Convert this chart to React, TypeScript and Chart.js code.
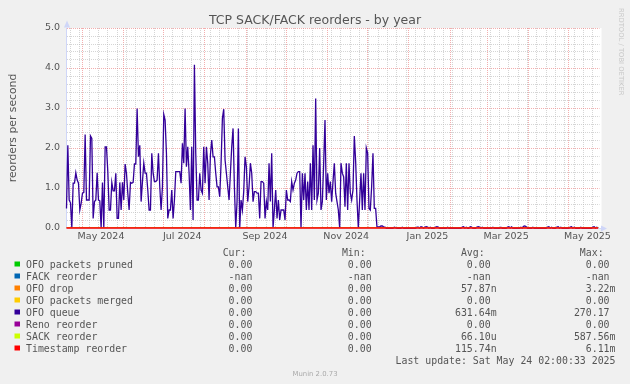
import React, { useEffect, useRef } from 'react';
import { Chart, registerables } from 'chart.js';

Chart.register(...registerables);

// ---- time frame (400 days ending Sat May 24 02:00 2025) ----
const START_MS = Date.UTC(2024, 3, 19, 2, 0, 0);
const DAY_MS = 86400000;
const SPAN_DAYS = 400;

// ---- OFO queue, one value per day (reorders per second) ----
const ofoQueue: number[] = [
  0.49, 2.07, 0.70, 0.63, 0, 1.12, 1.12, 1.38, 1.20, 1.12,
  0.45, 0.62, 0.87, 0.89, 2.34, 0.70, 0.70, 0.70, 2.30, 2.24,
  0.24, 0.66, 0.70, 1.38, 0.70, 0.68, 0, 1.14, 0, 2.03,
  2.03, 1.41, 0.45, 0.45, 1.14, 0.93, 0.93, 1.37, 0.24, 0.24,
  1.14, 0.45, 1.14, 0.70, 1.60, 1.37, 0.87, 0.45, 1.14, 1.12,
  1.14, 1.60, 1.60, 2.99, 1.78, 2.07, 0.66, 1.16, 1.62, 1.37,
  1.37, 0.95, 0.45, 0.45, 1.87, 1.37, 1.16, 1.16, 1.20, 1.87,
  1.03, 0.45, 1.03, 2.84, 2.70, 1.87, 0.24, 0.45, 0.45, 0.95,
  0.24, 0.70, 1.41, 1.41, 1.41, 1.41, 1.12, 2.12, 1.62, 2.99,
  1.53, 2.03, 1.37, 0.45, 2.03, 0.20, 4.08, 1.87, 0.70, 0.70,
  1.37, 0.95, 0.87, 2.03, 1.12, 2.03, 1.62, 0.70, 1.83, 2.20,
  1.78, 1.78, 1.37, 1.03, 1.03, 0.78, 1.62, 2.74, 2.97, 1.70,
  1.37, 1.03, 0.70, 1.37, 2.03, 2.49, 1.03, 0, 0.66, 2.49,
  0, 0.70, 0.45, 0.91, 1.78, 1.53, 0.66, 1.03, 1.62, 1.37,
  0.66, 0.91, 0.91, 0.87, 0.87, 0.24, 1.16, 1.16, 1.12, 0.24,
  0.66, 0.45, 1.62, 0.66, 1.87, 0, 0.45, 0.95, 0.24, 0.70,
  0.20, 0.45, 0.45, 0.45, 0.20, 0.95, 0.70, 0.70, 0.66, 1.16,
  0.95, 1.12, 1.20, 1.37, 1.41, 1.41, 0, 1.37, 0.70, 1.37,
  0.45, 1.16, 0.45, 1.62, 0.45, 2.07, 0.70, 3.24, 0.70, 0.87,
  2.00, 0.45, 0.66, 1.62, 2.70, 0.70, 1.37, 0.87, 1.16, 0.66,
  1.16, 1.62, 0.87, 0.66, 0.45, 0, 1.62, 1.37, 1.28, 0.53,
  1.62, 0.45, 1.62, 0.87, 0.70, 0.95, 2.30, 1.66, 0.70, 0,
  0.70, 1.37, 0.45, 1.37, 0.45, 2.00, 1.87, 0.49, 0.45, 1.03,
  1.87, 0.49, 0.49,
  0.02, 0.03, 0.03, 0.05, 0.05, 0.03, 0.02, 0, 0, 0,
  0, 0, 0, 0.02, 0.01, 0, 0, 0, 0, 0.02,
  0, 0, 0, 0, 0, 0, 0, 0, 0, 0,
  0.02, 0.02, 0, 0.03, 0.02, 0, 0.02, 0.03, 0.02, 0,
  0.02, 0, 0, 0, 0.02, 0.03, 0.02, 0, 0, 0,
  0, 0, 0, 0.02, 0, 0, 0, 0, 0, 0,
  0, 0, 0, 0, 0.02, 0.03, 0, 0.02, 0, 0,
  0.03, 0.02, 0, 0, 0, 0.02, 0.03, 0.02, 0, 0.02,
  0, 0, 0, 0, 0, 0, 0, 0.02, 0, 0,
  0, 0, 0, 0.02, 0, 0, 0, 0, 0.02, 0.03,
  0, 0.03, 0, 0, 0, 0, 0, 0, 0.02, 0,
  0.04, 0.05, 0.03, 0, 0, 0, 0, 0.02, 0, 0,
  0, 0, 0, 0, 0, 0, 0, 0, 0.02, 0.03,
  0, 0.02, 0, 0, 0, 0.02, 0.03, 0, 0.02, 0,
  0, 0, 0, 0, 0, 0.02, 0.03, 0, 0.02, 0,
  0, 0, 0, 0.02, 0, 0, 0, 0, 0, 0,
  0, 0, 0.02, 0.03, 0, 0.02, 0,
];

// the other series are flat at zero over the whole period (FACK is nan)
const flatDays = [0, 399];
const flatZero = [0, 0];

// ---- legend ----
const seriesNames = [
  'OFO packets pruned', 'FACK reorder', 'OFO drop', 'OFO packets merged',
  'OFO queue', 'Reno reorder', 'SACK reorder', 'Timestamp reorder',
];
const seriesColors = ['#00CC00', '#0066B3', '#FF8000', '#FFCC00', '#330099', '#990099', '#CCFF00', '#FF0000'];
const curValues = ['0.00', '-nan', '0.00', '0.00', '0.00', '0.00', '0.00', '0.00'];
const minValues = ['0.00', '-nan', '0.00', '0.00', '0.00', '0.00', '0.00', '0.00'];
const avgValues = ['0.00', '-nan', '57.87n', '0.00', '631.64m', '0.00', '66.10u', '115.74n'];
const maxValues = ['0.00', '-nan', '3.22m', '0.00', '270.17', '0.00', '587.56m', '6.11m'];
const columnHeaders = ['Cur:', 'Min:', 'Avg:', 'Max:'];

// ---- axis labels ----
const xTickLabels = ['May 2024', 'Jul 2024', 'Sep 2024', 'Nov 2024', 'Jan 2025', 'Mar 2025', 'May 2025'];
const xTickLabelMonths = [[2024, 4], [2024, 6], [2024, 8], [2024, 10], [2025, 0], [2025, 2], [2025, 4]];
const yMax = 5;
const yMinorStep = 0.2;

const TITLE = 'TCP SACK/FACK reorders - by year';
const Y_TITLE = 'reorders per second';
const LAST_UPDATE = 'Last update: Sat May 24 02:00:33 2025';
const WATERMARK = 'RRDTOOL / TOBI OETIKER';
const VERSION = 'Munin 2.0.73';

const dayOf = (ms: number) => (ms - START_MS) / DAY_MS;

// tick sets for the x axis (weekly minor grid, monthly major grid, mid-month labels)
type XTick = { value: number; grid: 'week' | 'month' | null; label: string };
const xTicks: XTick[] = [];
const addTick = (value: number, grid: XTick['grid'], label: string) => {
  const t = xTicks.find((k) => Math.abs(k.value - value) < 1e-6);
  if (t) {
    if (grid && t.grid !== 'month') t.grid = grid;
    if (label) t.label = label;
  } else xTicks.push({ value, grid, label });
};
{
  for (let d = dayOf(Date.UTC(2024, 3, 22)); d < SPAN_DAYS; d += 7) addTick(d, 'week', '');
  let y = 2024;
  let m = 4;
  while (dayOf(Date.UTC(y, m, 1)) < SPAN_DAYS) {
    addTick(dayOf(Date.UTC(y, m, 1)), 'month', '');
    m++;
    if (m > 11) { m = 0; y++; }
  }
  xTickLabelMonths.forEach(([yy, mm], i) => addTick(dayOf(Date.UTC(yy, mm, 1)) + 14, null, xTickLabels[i]));
  xTicks.sort((a, b) => a.value - b.value);
}
const tickInfo = (v: number) => xTicks.find((t) => Math.abs(t.value - v) < 1e-6);

const MAJOR = 'rgba(235, 120, 120, 0.6)';
const MINOR = 'rgba(185, 185, 185, 0.6)';
const TEXT = '#555555';
const AXIS = '#CFD6F8';

const muninPlugin = {
  id: 'muninDecor',
  beforeDraw(chart: any) {
    const { ctx, chartArea: a } = chart;
    ctx.save();
    ctx.fillStyle = '#F0F0F0';
    ctx.fillRect(0, 0, chart.width, chart.height);
    ctx.fillStyle = '#FFFFFF';
    ctx.fillRect(a.left, a.top, a.right - a.left + 2, a.bottom - a.top);
    ctx.restore();
  },
  afterDraw(chart: any) {
    const { ctx, chartArea: a } = chart;
    ctx.save();
    // axis arrows
    ctx.fillStyle = AXIS;
    ctx.strokeStyle = AXIS;
    ctx.lineWidth = 1;
    ctx.beginPath();
    ctx.moveTo(a.right, Math.round(a.bottom) + 0.5);
    ctx.lineTo(a.right + 2, Math.round(a.bottom) + 0.5);
    ctx.stroke();
    ctx.beginPath();
    ctx.moveTo(a.right + 1.5, a.bottom - 2.5);
    ctx.lineTo(a.right + 7.5, a.bottom + 0.5);
    ctx.lineTo(a.right + 1.5, a.bottom + 3.5);
    ctx.closePath();
    ctx.fill();
    ctx.beginPath();
    ctx.moveTo(a.left - 2.5, a.top - 0.5);
    ctx.lineTo(a.left + 0.5, a.top - 7.5);
    ctx.lineTo(a.left + 3.5, a.top - 0.5);
    ctx.closePath();
    ctx.fill();

    // title
    ctx.fillStyle = TEXT;
    ctx.font = '12.5px "DejaVu Sans"';
    ctx.textAlign = 'center';
    ctx.textBaseline = 'alphabetic';
    ctx.fillText(TITLE, 315, 23.5);

    // y axis title
    ctx.save();
    ctx.translate(15.5, (a.top + a.bottom) / 2);
    ctx.rotate(-Math.PI / 2);
    ctx.font = '10.8px "DejaVu Sans"';
    ctx.textAlign = 'center';
    ctx.fillText(Y_TITLE, 0, 0);
    ctx.restore();

    // watermark
    ctx.save();
    ctx.translate(619, 8);
    ctx.rotate(Math.PI / 2);
    ctx.font = '6.8px "DejaVu Sans"';
    ctx.textAlign = 'left';
    ctx.fillStyle = '#C8C8C8';
    ctx.fillText(WATERMARK, 0, 0);
    ctx.restore();

    // legend table
    ctx.font = '9.9px "DejaVu Sans Mono"';
    const cw = ctx.measureText('0').width;
    const edges = [258.3, 377.6, 496.6, 615.5];
    const cols = [curValues, minValues, avgValues, maxValues];
    const base0 = 267.5;
    const rowH = 12;
    ctx.textAlign = 'right';
    columnHeaders.forEach((h, c) => ctx.fillText(h, edges[c] - 2 * cw, base0 - rowH));
    seriesNames.forEach((name, i) => {
      const by = base0 + i * rowH;
      ctx.fillStyle = seriesColors[i];
      ctx.fillRect(14.5, by - 6, 5.5, 5);
      ctx.fillStyle = TEXT;
      ctx.textAlign = 'left';
      ctx.fillText(name, 26, by);
      ctx.textAlign = 'right';
      cols.forEach((col, c) => {
        const s = col[i];
        const suffixed = /[numkMG]$/.test(s) && s !== '-nan';
        ctx.fillText(s, edges[c] - (suffixed ? 0 : cw), by);
      });
    });
    ctx.fillText(LAST_UPDATE, 615.5, base0 + 8 * rowH);

    ctx.font = '6.9px "DejaVu Sans"';
    ctx.fillStyle = '#AAAAAA';
    ctx.textAlign = 'center';
    ctx.fillText(VERSION, 315, 376);
    ctx.restore();
  },
};

export default function App() {
  const ref = useRef<HTMLCanvasElement>(null);
  useEffect(() => {
    document.body.style.margin = '0';
    const canvas = ref.current;
    if (!canvas) return;
    const datasets = seriesNames.map((name, i) => {
      const isQueue = i === 4;
      const isNan = i === 1;
      const isTop = i === seriesNames.length - 1;
      const xs = isQueue ? ofoQueue.map((_, k) => k) : flatDays;
      const ys = isQueue ? ofoQueue : flatZero;
      return {
        label: name,
        data: isNan ? [] : xs.map((x, k) => ({ x, y: ys[k] })),
        borderColor: seriesColors[i],
        backgroundColor: seriesColors[i],
        borderWidth: isQueue ? 1.3 : isTop ? 1.4 : 1,
        pointRadius: 0,
        tension: 0,
        fill: false,
        clip: isQueue || isTop ? false : undefined,
        order: -i,
      };
    });
    const chart = new Chart(canvas, {
      type: 'line',
      data: { datasets },
      options: {
        animation: false,
        responsive: false,
        devicePixelRatio: 1,
        layout: { padding: { left: 0, top: 28, right: 30.5, bottom: 0 } },
        plugins: { legend: { display: false }, tooltip: { enabled: false }, title: { display: false } },
        scales: {
          x: {
            type: 'linear',
            min: 0,
            max: SPAN_DAYS,
            afterFit: (s: any) => { s.height = 156; },
            afterBuildTicks: (s: any) => { s.ticks = xTicks.map((t) => ({ value: t.value })); },
            ticks: {
              autoSkip: false,
              maxRotation: 0,
              minRotation: 0,
              padding: 3,
              color: TEXT,
              font: { family: 'DejaVu Sans', size: 9.5 },
              callback: (v: any) => tickInfo(Number(v))?.label ?? '',
            },
            grid: {
              drawTicks: false,
              lineWidth: 1,
              color: (c: any) => {
                const t = c.tick ? tickInfo(c.tick.value) : undefined;
                if (!t || !t.grid) return 'rgba(0,0,0,0)';
                return t.grid === 'month' ? MAJOR : MINOR;
              },
            },
            border: { display: true, color: AXIS, width: 1, dash: [1, 1] },
          },
          y: {
            type: 'linear',
            min: 0,
            max: yMax,
            afterFit: (s: any) => { s.width = 66.5; },
            ticks: {
              stepSize: yMinorStep,
              autoSkip: false,
              padding: 6.5,
              color: TEXT,
              font: { family: 'DejaVu Sans', size: 9.5 },
              callback: (v: any) => {
                const n = Number(v);
                return Math.abs(n - Math.round(n)) < 1e-6 ? n.toFixed(1) : '';
              },
            },
            grid: {
              drawTicks: false,
              lineWidth: 1,
              color: (c: any) => {
                const n = c.tick ? c.tick.value : 0.5;
                return Math.abs(n - Math.round(n)) < 1e-6 ? MAJOR : MINOR;
              },
            },
            border: { display: true, color: AXIS, width: 1, dash: [1, 1] },
          },
        },
      },
      plugins: [muninPlugin],
    } as any);
    return () => chart.destroy();
  }, []);
  return (
    <div style={{ width: 630, height: 384 }}>
      <canvas ref={ref} width={630} height={384} style={{ display: 'block', width: 630, height: 384 }} />
    </div>
  );
}
